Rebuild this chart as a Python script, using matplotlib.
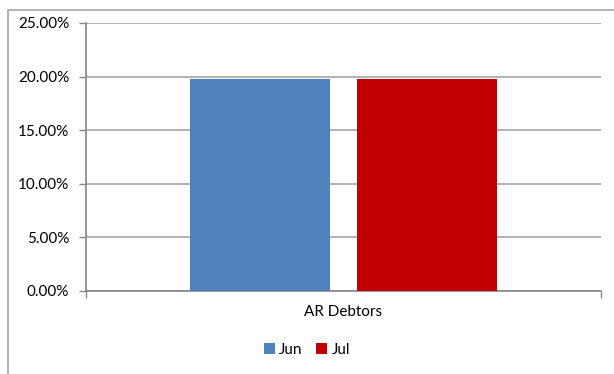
import matplotlib.pyplot as plt
from matplotlib.patches import Rectangle
from matplotlib.ticker import PercentFormatter

categories = ["AR Debtors"]
series_names = ["Jun", "Jul"]
series_values = [[19.78], [19.78]]
colors = ["#4F81BD", "#C00000"]
yticks = [0, 5, 10, 15, 20, 25]

plt.rcParams['font.family'] = ['Lato', 'DejaVu Sans']

fig = plt.figure(figsize=(6.14, 3.74), dpi=100)
# outer chart frame (runs off the right and bottom edges)
fig.patches.append(Rectangle((8 / 614, -0.1), 1.2, 1.1 - 10 / 374,
                             transform=fig.transFigure, fill=False,
                             edgecolor="#A6A6A6", linewidth=1.2))

ax = fig.add_axes([86 / 614, (374 - 291) / 374, 515 / 614, 268 / 374])

bar_w = 0.272
gap = 0.054
offsets = [-(bar_w + gap) / 2, (bar_w + gap) / 2]
for name, vals, col, off in zip(series_names, series_values, colors, offsets):
    ax.bar([i + off for i in range(len(categories))], vals, width=bar_w,
           color=col, label=name, zorder=3)

ax.set_xlim(-0.5, 0.5)
ax.set_ylim(0, 25)
ax.set_yticks(yticks)
ax.yaxis.set_major_formatter(PercentFormatter(decimals=2))
ax.grid(axis="y", color="#A6A6A6", linewidth=1.2, zorder=0)

ax.set_xticks([-0.5, 0.5])
ax.set_xticklabels(["", ""])
ax.tick_params(axis="x", length=5, color="#868686", width=1)
ax.tick_params(axis="y", length=5, color="#868686", width=1,
               labelsize=11, pad=7)
for s in ["top", "right"]:
    ax.spines[s].set_visible(False)
for s in ["left", "bottom"]:
    ax.spines[s].set_color("#868686")
    ax.spines[s].set_linewidth(1.2)

ax.text(0, -0.08, categories[0], transform=ax.get_xaxis_transform(),
        ha="center", va="center", fontsize=11)

ax.legend(loc="center", bbox_to_anchor=(0.5, (374 - 350) / 374),
          bbox_transform=fig.transFigure, ncol=2, frameon=False,
          fontsize=11, handlelength=0.7, handleheight=0.7,
          handletextpad=0.3, columnspacing=0.9)

fig.savefig("out.png", dpi=100)
